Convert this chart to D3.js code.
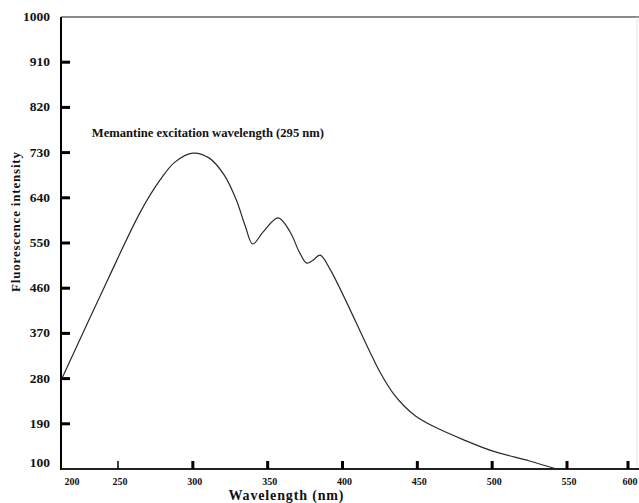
<!DOCTYPE html>
<html>
<head>
<meta charset="utf-8">
<script src="https://cdn.jsdelivr.net/npm/d3@7"></script>
<style>
  html, body { margin: 0; padding: 0; background: #fff; }
  svg { display: block; }
  text { font-family: "Liberation Serif", "Times New Roman", serif; font-weight: bold; fill: #111; }
</style>
</head>
<body>
<svg id="chart" width="639" height="503"></svg>
<script>
// excitation spectrum
const wavelength = [201, 241, 265, 278, 288, 300, 311, 321, 329, 335, 340, 347, 357, 365, 371, 376, 380, 385, 392, 418, 425, 434, 441, 449, 460, 481, 500, 525, 543];
const intensity  = [281, 477, 612, 675, 711, 729, 719, 685, 636, 584, 548, 572, 600, 572, 533, 510, 515, 526, 496, 335, 293, 250, 226, 205, 186, 158, 136, 116, 100];

const xTicks = [200, 250, 300, 350, 400, 450, 500, 550, 600];
const yTicks = [100, 190, 280, 370, 460, 550, 640, 730, 820, 910, 1000];

const annotation = "Memantine excitation wavelength (295 nm)";

const svg = d3.select("#chart");

// the printed axis is not quite even, so the scale is piecewise
const x = d3.scaleLinear()
  .domain([200, 250, 550, 600])
  .range([61, 118, 567, 628]);
const y = d3.scaleLinear()
  .domain([100, 1000])
  .range([469, 17]);

// frame: grey top rule and faint right edge
svg.append("line")
  .attr("x1", 61).attr("x2", 639)
  .attr("y1", y(1000)).attr("y2", y(1000))
  .attr("stroke", "#8a8a8a").attr("stroke-width", 2);
svg.append("line")
  .attr("x1", 637).attr("x2", 637)
  .attr("y1", y(1000)).attr("y2", y(100))
  .attr("stroke", "#e4e4e4").attr("stroke-width", 1);

// y axis
const gy = svg.append("g").attr("transform", `translate(${x(200)},0)`);
gy.append("line")
  .attr("y1", y(1000)).attr("y2", y(100) + 1)
  .attr("stroke", "#000").attr("stroke-width", 2);
gy.selectAll("line.tick")
  .data(yTicks.filter(d => d !== 100 && d !== 1000))
  .join("line")
  .attr("class", "tick")
  .attr("x1", 0).attr("x2", 9)
  .attr("y1", d => y(d)).attr("y2", d => y(d))
  .attr("stroke", "#000").attr("stroke-width", 3);
gy.selectAll("text")
  .data(yTicks)
  .join("text")
  .attr("x", -11)
  .attr("y", d => y(d) + (d === 100 ? -2 : 4))
  .attr("text-anchor", "end")
  .style("font-size", "13.5px")
  .text(d => d);

// x axis
const gx = svg.append("g").attr("transform", `translate(0,${y(100)})`);
gx.append("line")
  .attr("x1", x(200)).attr("x2", 639)
  .attr("stroke", "#222").attr("stroke-width", 2);
gx.selectAll("line.tick")
  .data(xTicks.filter(d => d !== 200))
  .join("line")
  .attr("class", "tick")
  .attr("x1", d => x(d)).attr("x2", d => x(d))
  .attr("y1", 0).attr("y2", -8)
  .attr("stroke", "#000").attr("stroke-width", d => d === 250 ? 1.5 : 3);
gx.selectAll("text")
  .data(xTicks)
  .join("text")
  .attr("x", d => d === 200 ? x(d) + 11 : x(d) + 2)
  .attr("y", 16)
  .attr("text-anchor", "middle")
  .style("font-size", "10px")
  .text(d => d);

// axis titles
svg.append("text")
  .attr("x", 286).attr("y", 500)
  .attr("text-anchor", "middle")
  .attr("textLength", 115)
  .style("font-size", "14px")
  .text("Wavelength (nm)");
svg.append("text")
  .attr("transform", "translate(20,222) rotate(-90)")
  .attr("text-anchor", "middle")
  .attr("textLength", 140)
  .style("font-size", "13px")
  .text("Fluorescence intensity");

// spectrum
const line = d3.line()
  .x((d, i) => x(wavelength[i]))
  .y(d => y(d))
  .curve(d3.curveCatmullRom.alpha(0.5));

svg.append("path")
  .datum(intensity)
  .attr("d", line)
  .attr("fill", "none")
  .attr("stroke", "#2a2a2a")
  .attr("stroke-width", 1.2);

svg.append("text")
  .attr("x", x(227)).attr("y", y(761))
  .style("font-size", "12.6px")
  .text(annotation);
</script>
</body>
</html>
